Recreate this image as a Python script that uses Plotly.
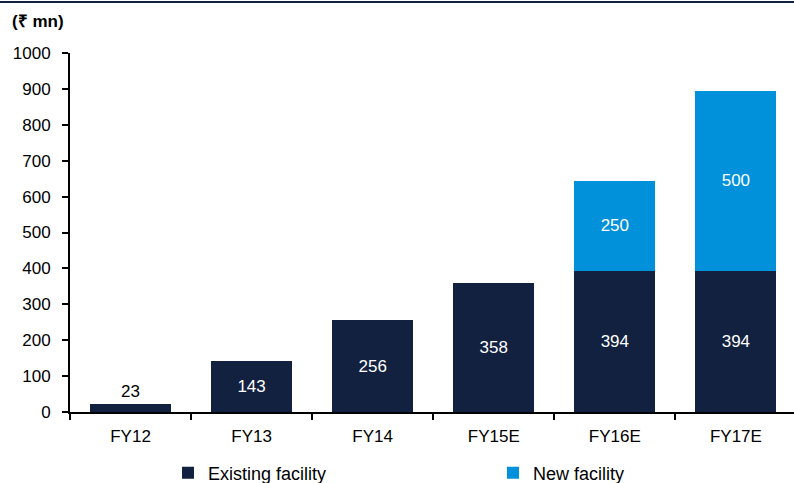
import plotly.graph_objects as go

categories = ["FY12", "FY13", "FY14", "FY15E", "FY16E", "FY17E"]
existing = [23, 143, 256, 358, 394, 394]
new_fac = [None, None, None, None, 250, 500]

navy = "#12213F"
blue = "#0091DA"
font = "Liberation Sans, Arial, sans-serif"

fig = go.Figure()
fig.add_trace(go.Bar(
    x=categories, y=existing, name="Existing facility",
    marker=dict(color=navy, line=dict(width=0)),
    text=[str(v) for v in existing],
    textposition=["outside"] + ["inside"] * 5,
    insidetextanchor="middle",
    textfont=dict(size=17, family=font),
    insidetextfont=dict(color="white", size=17, family=font),
    outsidetextfont=dict(color="black", size=17, family=font),
    cliponaxis=False,
    legend="legend",
))
fig.add_trace(go.Bar(
    x=categories, y=new_fac, name="New facility",
    marker=dict(color=blue, line=dict(width=0)),
    text=["" if v is None else str(v) for v in new_fac],
    textposition="inside",
    insidetextanchor="middle",
    insidetextfont=dict(color="white", size=17, family=font),
    legend="legend2",
))

legend_common = dict(orientation="h", xanchor="left", xref="container",
                     y=10/483, yanchor="middle", yref="container",
                     font=dict(size=18, family=font), bgcolor="rgba(0,0,0,0)")

fig.update_layout(
    barmode="stack",
    bargap=0.33,
    width=794, height=483,
    margin=dict(l=70, r=0, t=53, b=71, autoexpand=False),
    plot_bgcolor="white", paper_bgcolor="white",
    font=dict(family=font, size=17, color="black"),
    showlegend=True,
    legend=dict(x=168/794, **legend_common),
    legend2=dict(x=493/794, **legend_common),
    xaxis=dict(range=[-0.5, 5.48], showline=True, linecolor="black", linewidth=2,
               ticks="outside", tickcolor="black", ticklen=6, tickwidth=2,
               tickson="boundaries", tickfont=dict(size=17), ticklabelstandoff=8),
    yaxis=dict(range=[0, 1000], dtick=100, showline=True, linecolor="black", linewidth=2,
               ticks="outside", tickcolor="black", ticklen=6, tickwidth=2,
               showgrid=False, zeroline=False, tickfont=dict(size=17), ticklabelstandoff=8),
)

fig.add_shape(type="line", xref="paper", yref="paper",
              x0=-70/724, x1=1, y0=410/359, y1=410/359,
              line=dict(color=navy, width=2))
fig.add_annotation(text="<b>(₹ mn)</b>", xref="paper", yref="paper",
                   x=-60/724, y=390/359, xanchor="left", yanchor="middle",
                   showarrow=False, font=dict(size=17, family=font))

fig.write_html("out.html", config={"displayModeBar": False},
               post_script="document.body.style.margin='0';")
